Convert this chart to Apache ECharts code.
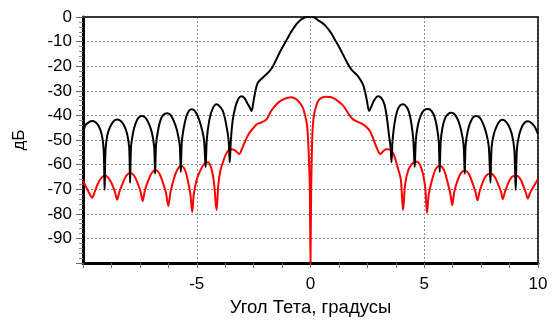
<!DOCTYPE html>
<html>
<head>
<meta charset="utf-8">
<script src="https://cdn.jsdelivr.net/npm/echarts@6/dist/echarts.min.js"></script>
<style>
  html, body { margin: 0; padding: 0; background: #fff; }
  #chart { width: 555px; height: 322px; }
</style>
</head>
<body>
<div id="chart"></div>
<script>
// sum pattern (black), angle in degrees -> dB
const sumX = [
  -10, -9.9, -9.75, -9.6, -9.45, -9.3, -9.17, -9.09, -9.05, -9.01, -8.93, -8.8, -8.65, -8.5, -8.35, -8.2, -8.06, -7.97,
  -7.93, -7.89, -7.8, -7.68, -7.55, -7.41, -7.27, -7.12, -6.97, -6.87, -6.83, -6.79, -6.7, -6.58, -6.45, -6.31, -6.17,
  -6.02, -5.87, -5.75, -5.7, -5.66, -5.57, -5.46, -5.34, -5.22, -5.1, -4.97, -4.82, -4.68, -4.61, -4.56, -4.45, -4.3,
  -4.13, -3.97, -3.84, -3.72, -3.6, -3.55, -3.5, -3.42, -3.3, -3.17, -3.03, -2.9, -2.78, -2.66, -2.59, -2.5, -2.42,
  -2.33, -2.2, -2.0, -1.8, -1.65, -1.5, -1.35, -1.2, -1.05, -0.9, -0.75, -0.6, -0.45, -0.3, -0.15, 0,
  0.15, 0.33, 0.48, 0.63, 0.78, 0.92, 1.06, 1.21, 1.36, 1.51, 1.65, 1.8, 2.09, 2.31, 2.4, 2.47, 2.58, 2.67, 2.8, 2.97,
  3.12, 3.25, 3.36, 3.45, 3.52, 3.56, 3.6, 3.68, 3.8, 3.93, 4.07, 4.22, 4.34, 4.44, 4.52, 4.58, 4.63, 4.72, 4.85, 5.0,
  5.17, 5.32, 5.45, 5.56, 5.64, 5.68, 5.72, 5.8, 5.92, 6.05, 6.19, 6.33, 6.48, 6.62, 6.73, 6.78, 6.82, 6.92, 7.04,
  7.16, 7.29, 7.43, 7.57, 7.72, 7.84, 7.91, 7.96, 8.06, 8.2, 8.3, 8.42, 8.56, 8.7, 8.85, 8.96, 9.02, 9.07, 9.17, 9.3,
  9.43, 9.56, 9.7, 9.85, 10
];
const sumDb = [
  -47.6, -44, -42.8, -42.3, -42.8, -44.5, -48, -54, -70.4, -54, -48, -44.5, -42.3, -41.6, -42.2, -44, -47.5, -53,
  -67.4, -53, -47, -43, -40.8, -40.2, -40.8, -43, -47, -53, -63.7, -52, -46, -41.5, -39.6, -39.1, -39.6,
  -42, -46, -52, -63, -51, -45, -40.5, -38.1, -37.5, -38, -40, -44, -50, -61, -50, -42, -37.2,
  -35.5, -36.5, -38.5, -43, -50, -59, -50, -42, -36.5, -33.2, -32.2, -33, -35, -37, -38.2, -34, -30,
  -27, -25.5, -23.8, -22, -20, -17.2, -14.3, -11.8, -9.3, -6.8, -4.6, -2.7, -1.3, -0.4, -0.05, 0,
  -0.1, -1.3, -2.2, -3.3, -4.9, -6.7, -9, -11.4, -14, -16.7, -19.2, -21.4, -24.1, -27.5, -30.5, -33.5, -38.2, -36.5, -33.8, -32.2,
  -33, -35.5, -41, -48, -53, -59, -51, -44, -38.5, -36, -35.5, -36.5, -39, -43.6, -50, -61, -50, -44, -40, -37.8,
  -37.4, -38.2, -40.5, -45, -51, -63, -51, -45, -41, -39.4, -38.9, -39.5, -41.8, -46, -52, -63.7, -52, -46, -42.5,
  -40.6, -40.2, -40.8, -43, -47, -53, -67.4, -53, -47.5, -44, -42.5, -41.8, -42.3, -44, -47.5, -54, -70.4, -54, -48, -44.5,
  -42.8, -42.4, -43, -44.5, -47.6
];

// difference pattern (red)
const diffX = [
  -10, -9.83, -9.7, -9.6, -9.5, -9.35, -9.2, -9.03, -8.88, -8.72, -8.6, -8.5, -8.4, -8.25, -8.1, -7.92, -7.75, -7.6,
  -7.47, -7.38, -7.28, -7.12, -6.97, -6.81, -6.65, -6.5, -6.35, -6.25, -6.15, -6.0, -5.85, -5.68, -5.52, -5.38, -5.28,
  -5.2, -5.13, -5.0, -4.85, -4.68, -4.5, -4.36, -4.24, -4.13, -4.05, -3.95, -3.83, -3.73, -3.62, -3.45, -3.3, -3.13,
  -3.03, -2.92, -2.8, -2.67, -2.5, -2.37, -2.15, -1.93, -1.75, -1.57, -1.38, -1.2, -1.0, -0.84, -0.65, -0.47, -0.33,
  -0.25, -0.15, -0.08, -0.03, 0, 0.03, 0.08, 0.13, 0.19, 0.33, 0.5, 0.7, 0.92, 1.05, 1.21, 1.37, 1.51, 1.7, 1.87, 2.1,
  2.31, 2.47, 2.61, 2.72, 2.83, 2.95, 3.06, 3.17, 3.32, 3.47, 3.6, 3.72, 3.85, 3.97, 4.07, 4.16, 4.29, 4.45, 4.63, 4.8,
  4.95, 5.05, 5.12, 5.2, 5.32, 5.5, 5.68, 5.86, 6.02, 6.14, 6.23, 6.32, 6.48, 6.63, 6.78, 6.95, 7.12, 7.25, 7.34, 7.43,
  7.6, 7.75, 7.92, 8.1, 8.27, 8.38, 8.45, 8.55, 8.7, 8.85, 9.02, 9.2, 9.35, 9.47, 9.55, 9.65, 9.8, 10
];
const diffDb = [
  -66.6, -69.7, -72, -73.5, -71.5, -67.8, -65.5, -64.4, -65.5, -68, -71, -74.2, -71, -67.5, -64.5, -63.4, -64.5, -67.5,
  -71, -74.8, -70.5, -66.2, -63.3, -62.2, -63.5, -67, -71.5, -76.8, -71, -65.5, -62, -60.4, -62, -67, -72,
  -79.3, -72, -66, -62.5, -59.8, -59, -61.5, -67.5, -78.5, -68, -62, -58.5, -56, -54.3, -53.7, -54.3, -55.7,
  -54, -51.5, -49, -46.9, -45, -43.6, -42.8, -41.6, -38.5, -36.2, -34.5, -33.5, -32.8, -32.6, -33.3, -34.9, -37,
  -39.6, -44, -55, -70, -100, -70, -48, -41.5, -38.2, -34.2, -32.8, -32.4, -32.6, -33.2, -34.2, -35.4, -36.9, -39.8, -41.6, -42.7,
  -43.6, -44.8, -46.3, -48.5, -51.3, -54, -55.7, -54.8, -53.7, -53.8, -54.8, -57.5, -61.7, -66, -78.5, -68, -62.5, -59.8, -58.7, -59.8,
  -64, -70, -79.5, -72, -67, -61.8, -60.4, -62, -67, -71.5, -76.5, -71, -66, -63.2, -62.5, -63.6, -67.5, -71, -74.5, -71,
  -66.5, -64.2, -63.6, -65, -68.5, -71.2, -74, -71, -67.3, -65, -64.4, -65.5, -68.5, -71.5, -73.8, -71.5, -69, -65.8
];

const xLabels = [-5, 0, 5, 10];
const yLabels = [0, -10, -20, -30, -40, -50, -60, -70, -80, -90];

const pairs = (xs, ys) => xs.map((x, i) => [x, ys[i]]);

const chart = echarts.init(document.getElementById('chart'), null, { renderer: 'canvas' });

const font = 'Liberation Sans, Arial, sans-serif';
const dots = { color: '#8a8a8a', width: 1, type: [2, 2] };

const option = {
  animation: false,
  backgroundColor: '#fff',
  grid: { left: 83, right: 17, top: 17, bottom: 57 },
  xAxis: [
    {
      type: 'value',
      min: -10,
      max: 10,
      interval: 5,
      position: 'bottom',
      name: 'Угол Тета, градусы',
      nameLocation: 'middle',
      nameGap: 32,
      nameTextStyle: { fontSize: 18.5, color: '#000', fontFamily: font },
      axisLine: { onZero: false, lineStyle: { color: '#000', width: 3 } },
      axisTick: { show: true, length: 5, lineStyle: { color: '#777', width: 1 } },
      minorTick: { show: true, splitNumber: 4, length: 5, lineStyle: { color: '#777', width: 1 } },
      axisLabel: {
        margin: 13,
        fontSize: 17,
        color: '#000',
        fontFamily: font,
        formatter: v => (xLabels.includes(v) ? String(v) : '')
      },
      splitLine: { show: true, lineStyle: dots }
    },
    {
      type: 'value',
      min: -10,
      max: 10,
      position: 'top',
      axisLine: { onZero: false, lineStyle: { color: '#333', width: 2, type: [3, 1] } },
      axisTick: { show: false },
      axisLabel: { show: false },
      splitLine: { show: false }
    }
  ],
  yAxis: [
    {
      type: 'value',
      min: -100,
      max: 0,
      interval: 10,
      position: 'left',
      name: 'дБ',
      nameLocation: 'middle',
      nameGap: 55,
      nameRotate: 90,
      nameTextStyle: { fontSize: 17, color: '#000', fontFamily: font },
      axisLine: { onZero: false, lineStyle: { color: '#000', width: 3 } },
      axisTick: { show: true, length: 7, lineStyle: { color: '#666', width: 1 } },
      minorTick: { show: true, splitNumber: 5, length: 4, lineStyle: { color: '#888', width: 1 } },
      axisLabel: {
        margin: 11,
        fontSize: 17,
        color: '#000',
        fontFamily: font,
        formatter: v => (yLabels.includes(v) ? String(v) : '')
      },
      splitLine: { show: true, lineStyle: dots }
    },
    {
      type: 'value',
      min: -100,
      max: 0,
      position: 'right',
      axisLine: { onZero: false, lineStyle: { color: '#333', width: 2, type: [3, 1] } },
      axisTick: { show: false },
      axisLabel: { show: false },
      splitLine: { show: false }
    }
  ],
  series: [
    {
      name: 'diff',
      type: 'line',
      data: pairs(diffX, diffDb),
      showSymbol: false,
      smooth: 0.3,
      lineStyle: { color: '#ff0000', width: 2 },
      z: 3
    },
    {
      name: 'sum',
      type: 'line',
      data: pairs(sumX, sumDb),
      showSymbol: false,
      smooth: 0.3,
      lineStyle: { color: '#000', width: 2 },
      z: 4
    }
  ]
};

chart.setOption(option);
</script>
</body>
</html>
